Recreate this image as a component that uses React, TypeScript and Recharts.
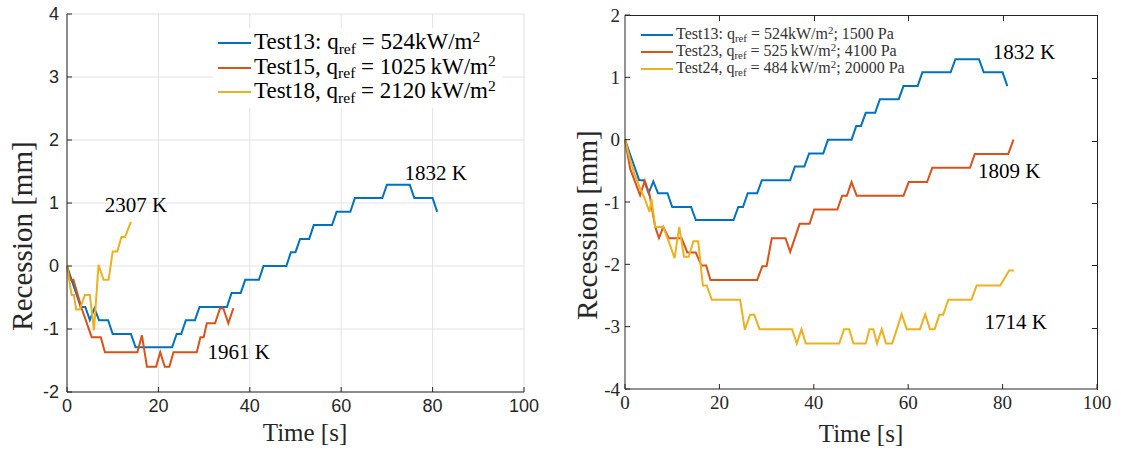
import React from 'react';
import { LineChart, Line, XAxis, YAxis, CartesianGrid, ReferenceDot, Legend } from 'recharts';

// MATLAB default line colours
const BLUE = '#0072BD';
const RED = '#D95319';
const YELLOW = '#EDB120';
const AXIS = '#262626';
const SERIF = '"Liberation Serif", "DejaVu Serif", serif';
const SANS = '"Liberation Sans", Arial, sans-serif';

const timeTicks = [0, 20, 40, 60, 80, 100];
const leftRecessionTicks = [-2, -1, 0, 1, 2, 3, 4];
const rightRecessionTicks = [-4, -3, -2, -1, 0, 1, 2];

// Test13 (shown in both panels)
const test13Time = [0, 1, 2, 3, 4, 5, 6, 7, 9, 10, 14, 15, 23, 24, 25, 26, 28, 29, 35, 36, 38, 39, 42, 43, 48, 49, 50, 51, 53, 54, 58, 59, 62, 63, 69, 70, 75, 76, 80, 81];
const test13Recession = [0, -0.22, -0.43, -0.65, -0.65, -0.86, -0.67, -0.86, -0.86, -1.08, -1.08, -1.29, -1.29, -1.08, -1.08, -0.86, -0.86, -0.65, -0.65, -0.43, -0.43, -0.22, -0.22, 0, 0, 0.22, 0.22, 0.43, 0.43, 0.65, 0.65, 0.86, 0.86, 1.08, 1.08, 1.29, 1.29, 1.08, 1.08, 0.86];

// left panel
const test15Time = [0, 0.7, 1.4, 3.2, 5.4, 7.4, 8.3, 15.4, 16.4, 17.5, 19.5, 20.4, 21.4, 22.4, 23.3, 28.4, 29.2, 29.9, 30.6, 32.4, 33.5, 34.2, 35.3, 36.4];
const test15Recession = [0, -0.22, -0.22, -0.67, -1.13, -1.13, -1.37, -1.37, -1.1, -1.6, -1.6, -1.37, -1.6, -1.6, -1.37, -1.37, -1.13, -1.13, -0.91, -0.91, -0.67, -0.67, -0.91, -0.67];

const test18Time = [0, 1, 1.5, 2, 2.8, 3.9, 5, 5.9, 6.9, 8, 9.1, 10, 11, 11.9, 12.7, 14];
const test18Recession = [0, -0.46, -0.46, -0.69, -0.69, -0.46, -0.46, -1.02, 0.02, -0.22, -0.22, 0.23, 0.23, 0.46, 0.46, 0.7];

// right panel
const test23Time = [0, 1.1, 3.2, 4.2, 5.2, 6.4, 7.2, 8.1, 9.3, 12, 13.2, 15, 16.2, 17.2, 18.1, 28, 29.1, 30, 31.1, 34, 35, 37, 39.1, 40.1, 45, 46, 47, 48, 49.1, 59, 60.1, 64, 65.1, 73.1, 74.1, 81.2, 82.3];
const test23Recession = [0, -0.47, -0.89, -0.66, -0.88, -1.4, -1.58, -1.4, -1.58, -1.58, -1.81, -1.81, -2.02, -2.02, -2.25, -2.25, -2.03, -2.03, -1.58, -1.58, -1.8, -1.35, -1.35, -1.12, -1.12, -0.9, -0.9, -0.68, -0.9, -0.9, -0.68, -0.68, -0.45, -0.45, -0.23, -0.23, 0];

const test24Time = [0, 1, 2, 3.2, 4.2, 5.2, 5.6, 6.4, 8.1, 9.2, 10.5, 11.5, 12.5, 13.5, 14.5, 15.5, 16.5, 17.3, 18.4, 24.4, 25.4, 26.5, 27.4, 28.5, 35.4, 36.4, 37.4, 38.3, 45.4, 46.4, 47.5, 48.4, 51, 51.8, 52.6, 53.4, 54.4, 55.3, 56.6, 57.6, 58.6, 59.7, 62.5, 63.6, 64.6, 65.6, 66.6, 67.4, 68.5, 73.4, 74.5, 79.5, 81.4, 82.4];
const test24Recession = [0, -0.3, -0.55, -0.78, -0.95, -1.16, -0.95, -1.4, -1.4, -1.62, -1.9, -1.4, -1.88, -1.88, -1.63, -1.63, -2.34, -2.34, -2.57, -2.57, -3.05, -2.81, -2.81, -3.04, -3.04, -3.27, -3.04, -3.27, -3.27, -3.04, -3.04, -3.27, -3.27, -3.04, -3.04, -3.27, -3.04, -3.27, -3.27, -3.04, -2.8, -3.04, -3.04, -2.8, -3.04, -3.04, -2.81, -2.81, -2.57, -2.57, -2.34, -2.34, -2.1, -2.1];

// surface temperature annotations
const leftNoteText = ['2307 K', '1961 K', '1832 K'];
const leftNoteTime = [15.1, 37.6, 80.7];
const leftNoteRecession = [0.98, -1.35, 1.49];
const rightNoteText = ['1832 K', '1809 K', '1714 K'];
const rightNoteTime = [84.5, 81.4, 82.8];
const rightNoteRecession = [1.42, -0.49, -2.92];

// legend entries
const leftLegendNames = ['Test13:', 'Test15,', 'Test18,'];
const leftLegendFlux = ['524kW/m', '1025\u2009kW/m', '2120\u2009kW/m'];
const rightLegendNames = ['Test13:', 'Test23,', 'Test24,'];
const rightLegendFlux = ['524kW/m', '525\u2009kW/m', '484\u2009kW/m'];
const rightLegendPressure = ['1500 Pa', '4100 Pa', '20000 Pa'];
const seriesColors = [BLUE, RED, YELLOW];

// right panel plot box (page px): frame with inward ticks on top and right
const rightBox = { left: 625, top: 15, width: 473, height: 375 };

const toPoints = (t: number[], v: number[]) => t.map((time, i) => ({ time, recession: v[i] }));

const sub: React.CSSProperties = { fontSize: '0.68em', position: 'relative', top: '0.3em' };
const sup: React.CSSProperties = { fontSize: '0.68em', position: 'relative', top: '-0.45em' };

const LegendBox = ({ names, flux, pressure, fontSize, rowHeight, lineLen, bg, color }: any) => (
    <div style={{ background: bg, padding: '3px 6px 3px 5px', fontFamily: SERIF, fontSize, color, lineHeight: `${rowHeight}px` }}>
        {names.map((name: string, i: number) => (
            <div key={name} style={{ display: 'flex', alignItems: 'center', whiteSpace: 'nowrap', height: rowHeight }}>
                <span style={{ display: 'inline-block', width: lineLen, height: 2, background: seriesColors[i], marginRight: 3 }} />
                <span>
                    {name} q<span style={sub}>ref</span> = {flux[i]}<span style={sup}>2</span>
                    {pressure ? `; ${pressure[i]}` : ''}
                </span>
            </div>
        ))}
    </div>
);

const axisTitle = (text: string, x: number, y: number, rotate: boolean, size: number) => () => (
    <text
        x={x}
        y={y}
        transform={rotate ? `rotate(-90 ${x} ${y})` : undefined}
        textAnchor="middle"
        dominantBaseline="central"
        fontFamily={SERIF}
        fontSize={size}
        fill={AXIS}
    >
        {text}
    </text>
);

const noteLabel = (value: string) => ({ value, position: 'center' as const, fontFamily: SERIF, fontSize: 21, fill: '#000' });

export default function App() {
    const t13 = toPoints(test13Time, test13Recession);
    const t15 = toPoints(test15Time, test15Recession);
    const t18 = toPoints(test18Time, test18Recession);
    const t23 = toPoints(test23Time, test23Recession);
    const t24 = toPoints(test24Time, test24Recession);

    return (
        <div style={{ position: 'absolute', left: 0, top: 0, width: 1121, height: 450, background: '#fff' }}>
            {/* left panel */}
            <div style={{ position: 'absolute', left: 0, top: 0 }}>
                <LineChart width={560} height={450} margin={{ top: 14, right: 36, bottom: 0, left: 0 }}>
                    <CartesianGrid stroke="#e2e2e2" strokeWidth={1} />
                    <XAxis
                        type="number"
                        dataKey="time"
                        domain={[0, 100]}
                        ticks={timeTicks}
                        height={58}
                        stroke={AXIS}
                        tickSize={-5}
                        tickMargin={12}
                        tick={{ fill: AXIS, fontFamily: SANS, fontSize: 18 }}
                        label={{ content: axisTitle('Time [s]', 305, 432, false, 25) }}
                    />
                    <YAxis
                        type="number"
                        domain={[-2, 4]}
                        ticks={leftRecessionTicks}
                        width={67}
                        stroke={AXIS}
                        tickSize={-5}
                        tickMargin={13}
                        tick={{ fill: AXIS, fontFamily: SANS, fontSize: 18 }}
                        label={{ content: axisTitle('Recession [mm]', 22, 236, true, 29) }}
                    />
                    <Legend
                        layout="vertical"
                        align="center"
                        verticalAlign="middle"
                        wrapperStyle={{ left: 213, top: 28, width: 'auto' }}
                        content={() => (
                            <LegendBox names={leftLegendNames} flux={leftLegendFlux} fontSize={23} rowHeight={24.5} lineLen={33} bg="#fff" color="#000" />
                        )}
                    />
                    <Line data={t13} dataKey="recession" name="Test13" type="linear" stroke={BLUE} strokeWidth={2} dot={false} isAnimationActive={false} />
                    <Line data={t15} dataKey="recession" name="Test15" type="linear" stroke={RED} strokeWidth={2} dot={false} isAnimationActive={false} />
                    <Line data={t18} dataKey="recession" name="Test18" type="linear" stroke={YELLOW} strokeWidth={2} dot={false} isAnimationActive={false} />
                    {leftNoteText.map((text, i) => (
                        <ReferenceDot key={text} x={leftNoteTime[i]} y={leftNoteRecession[i]} r={0} fill="none" stroke="none" label={noteLabel(text)} />
                    ))}
                </LineChart>
            </div>

            {/* right panel */}
            <div style={{ position: 'absolute', left: 560, top: 0 }}>
                <LineChart width={561} height={450} margin={{ top: 15, right: 24, bottom: 0, left: 0 }}>
                    <XAxis
                        type="number"
                        dataKey="time"
                        domain={[0, 100]}
                        ticks={timeTicks}
                        height={61}
                        stroke={AXIS}
                        tickSize={-5}
                        tickMargin={12}
                        tick={{ fill: AXIS, fontFamily: SERIF, fontSize: 19 }}
                        label={{ content: axisTitle('Time [s]', 301, 433, false, 25) }}
                    />
                    <YAxis
                        type="number"
                        domain={[-4, 2]}
                        ticks={rightRecessionTicks}
                        width={65}
                        stroke={AXIS}
                        tickSize={-5}
                        tickMargin={10}
                        tick={{ fill: AXIS, fontFamily: SERIF, fontSize: 19 }}
                        label={{ content: axisTitle('Recession [mm]', 27, 225, true, 29) }}
                    />
                    <Legend
                        layout="vertical"
                        align="center"
                        verticalAlign="middle"
                        wrapperStyle={{ left: 76, top: 23, width: 'auto' }}
                        content={() => (
                            <LegendBox
                                names={rightLegendNames}
                                flux={rightLegendFlux}
                                pressure={rightLegendPressure}
                                fontSize={16}
                                rowHeight={17}
                                lineLen={32}
                                bg="transparent"
                                color="#333"
                            />
                        )}
                    />
                    <Line data={t13} dataKey="recession" name="Test13" type="linear" stroke={BLUE} strokeWidth={2} dot={false} isAnimationActive={false} />
                    <Line data={t23} dataKey="recession" name="Test23" type="linear" stroke={RED} strokeWidth={2} dot={false} isAnimationActive={false} />
                    <Line data={t24} dataKey="recession" name="Test24" type="linear" stroke={YELLOW} strokeWidth={2} dot={false} isAnimationActive={false} />
                    {rightNoteText.map((text, i) => (
                        <ReferenceDot key={text} x={rightNoteTime[i]} y={rightNoteRecession[i]} r={0} fill="none" stroke="none" label={noteLabel(text)} />
                    ))}
                </LineChart>
            </div>

            {/* top/right edges of the right box, with inward ticks */}
            <div
                style={{
                    position: 'absolute',
                    ...rightBox,
                    boxSizing: 'border-box',
                    borderTop: `1px solid ${AXIS}`,
                    borderRight: `1px solid ${AXIS}`,
                    pointerEvents: 'none',
                    zIndex: 5,
                }}
            >
                {timeTicks.slice(1, -1).map((t) => (
                    <div key={`tt${t}`} style={{ position: 'absolute', left: `${t}%`, top: 0, width: 1, height: 5, background: AXIS }} />
                ))}
                {rightRecessionTicks.slice(1, -1).map((v) => (
                    <div key={`rt${v}`} style={{ position: 'absolute', right: 0, top: `${((2 - v) / 6) * 100}%`, width: 5, height: 1, background: AXIS }} />
                ))}
            </div>
        </div>
    );
}
